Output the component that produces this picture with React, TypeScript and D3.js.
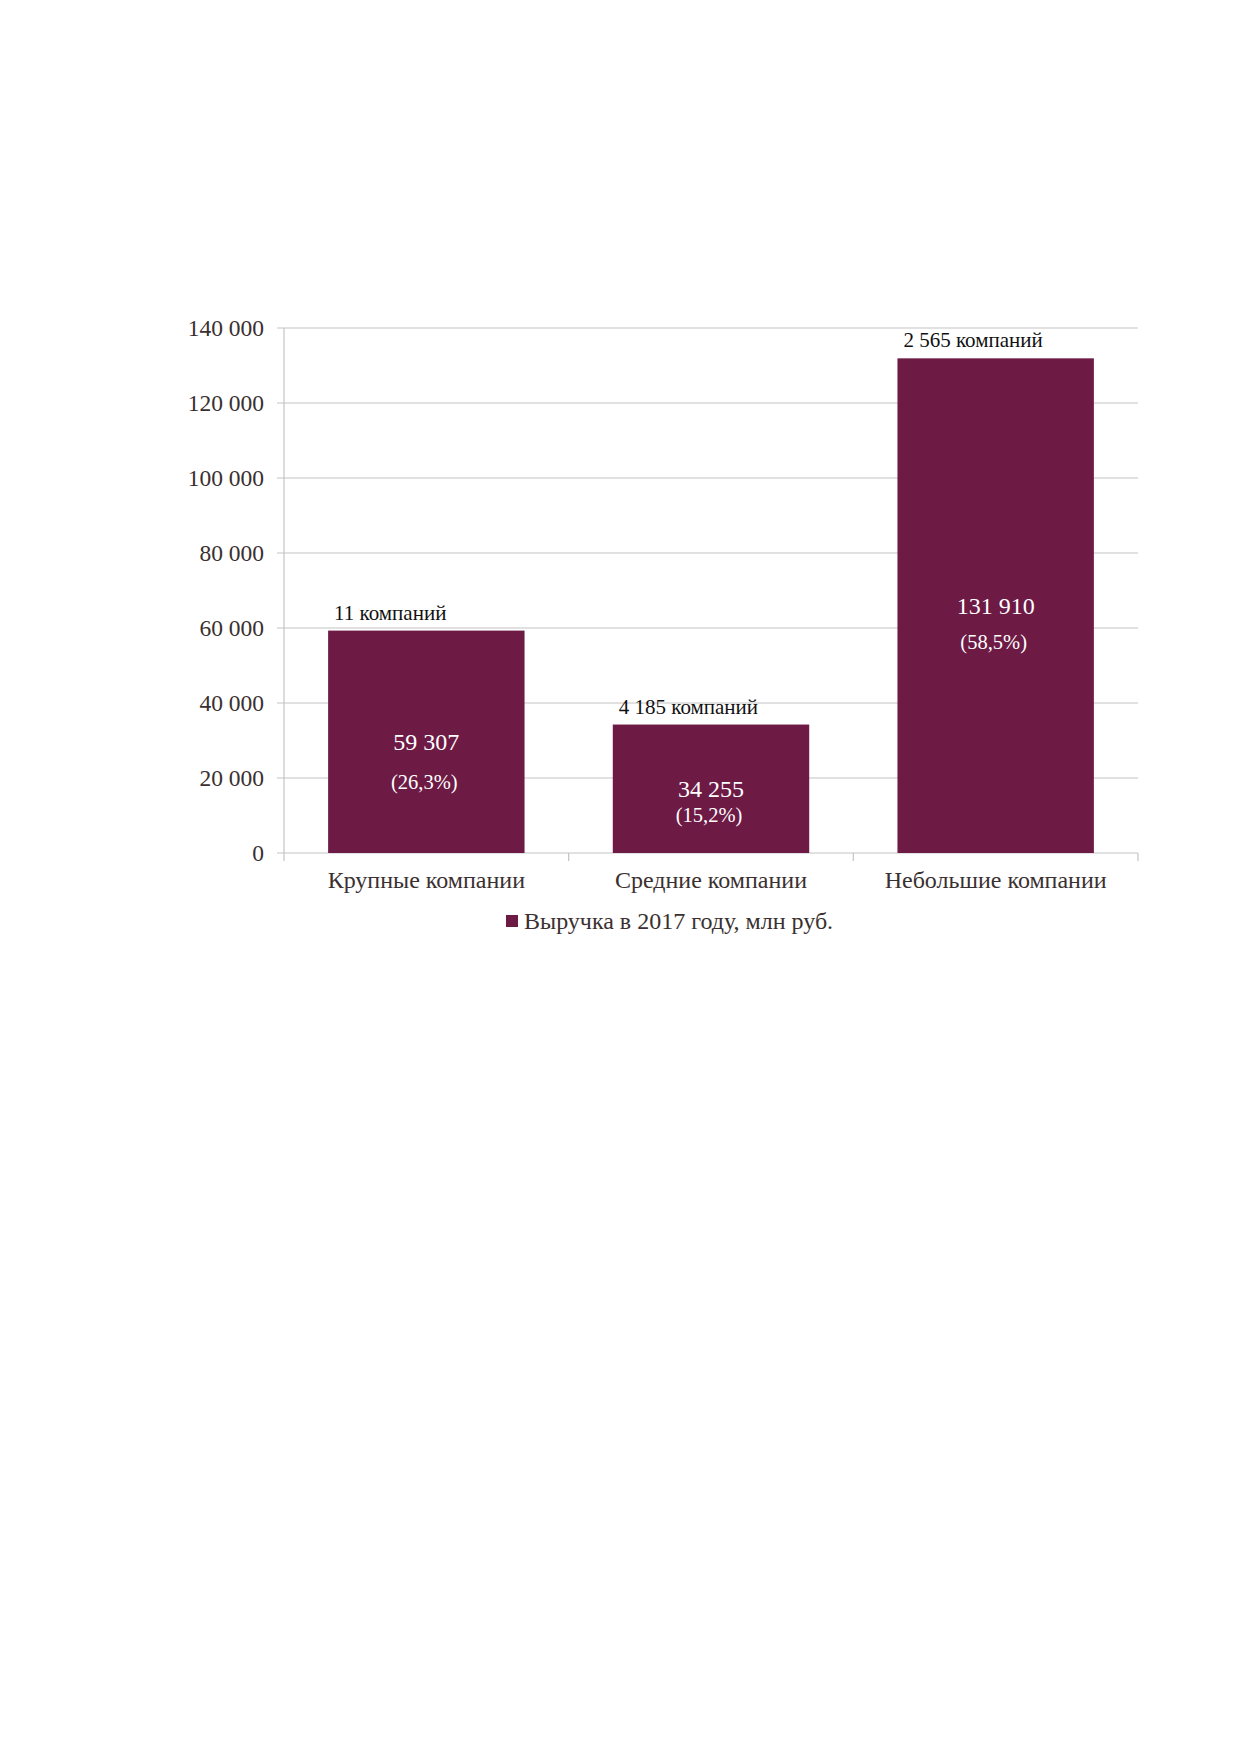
import React from 'react';
import * as d3 from 'd3';

const categories = ['Крупные компании', 'Средние компании', 'Небольшие компании'];
const revenue = [59307, 34255, 131910];
const shares = ['(26,3%)', '(15,2%)', '(58,5%)'];
const companyCounts = ['11 компаний', '4 185 компаний', '2 565 компаний'];
const yTicks = [0, 20000, 40000, 60000, 80000, 100000, 120000, 140000];
const seriesName = 'Выручка в 2017 году, млн руб.';

// percent label offsets under the value (hand placed in the original)
const shareOffsets = [40, 26, 36];

const W = 1239;
const H = 1752;
const BAR = '#6d1a45';
const TEXT = '#3a3030';
const GRID = '#c4c4c4';
const FONT = '"Liberation Serif", "Times New Roman", serif';

const locale = d3.formatLocale({ decimal: ',', thousands: ' ', grouping: [3], currency: ['', ''] });
const fmt = locale.format(',d');

const App = () => {
  const x = d3
    .scaleBand<string>()
    .domain(categories)
    .range([284, 1138])
    .paddingInner(0.31)
    .paddingOuter(0.155);
  const y = d3.scaleLinear().domain([0, 140000]).range([853, 328]);
  const [x0, x1] = x.range();
  const step = x.step();
  const bounds = d3.range(categories.length + 1).map(i => x0 + i * step);

  return (
    <svg
      width={W}
      height={H}
      style={{ position: 'absolute', left: 0, top: 0, background: '#fff' }}
      fontFamily={FONT}>
      <rect width={W} height={H} fill="#fff" />
      {yTicks.map(t => (
        <g key={t}>
          <line x1={x0 - 7} x2={x1} y1={y(t)} y2={y(t)} stroke={GRID} strokeWidth={1.2} />
          <text x={264} y={y(t) + 8} textAnchor="end" fontSize={23.5} fill={TEXT}>
            {fmt(t)}
          </text>
        </g>
      ))}
      <line x1={x0} x2={x0} y1={y(140000)} y2={y(0)} stroke={GRID} strokeWidth={1.2} />
      {bounds.map((b, i) => (
        <line key={i} x1={b} x2={b} y1={y(0)} y2={y(0) + 8} stroke={GRID} strokeWidth={1.2} />
      ))}
      {categories.map((c, i) => {
        const bx = x(c)!;
        const bw = x.bandwidth();
        const top = y(revenue[i]);
        const mid = (top + y(0)) / 2;
        const cx = bx + bw / 2;
        return (
          <g key={c}>
            <rect x={bx} y={top} width={bw} height={y(0) - top} fill={BAR} />
            <text x={bx + 6} y={top - 11} fontSize={21} fill="#111">
              {companyCounts[i]}
            </text>
            <text x={cx} y={mid + 8} textAnchor="middle" fontSize={24} fill="#fff">
              {fmt(revenue[i])}
            </text>
            <text x={cx - 2} y={mid + shareOffsets[i] + 7} textAnchor="middle" fontSize={20.5} fill="#fff">
              {shares[i]}
            </text>
            <text x={cx} y={888} textAnchor="middle" fontSize={24} fill={TEXT}>
              {c}
            </text>
          </g>
        );
      })}
      <rect x={506} y={915} width={12} height={12} fill={BAR} />
      <text x={524} y={929} fontSize={24} fill={TEXT}>
        {seriesName}
      </text>
    </svg>
  );
};

export default App;
